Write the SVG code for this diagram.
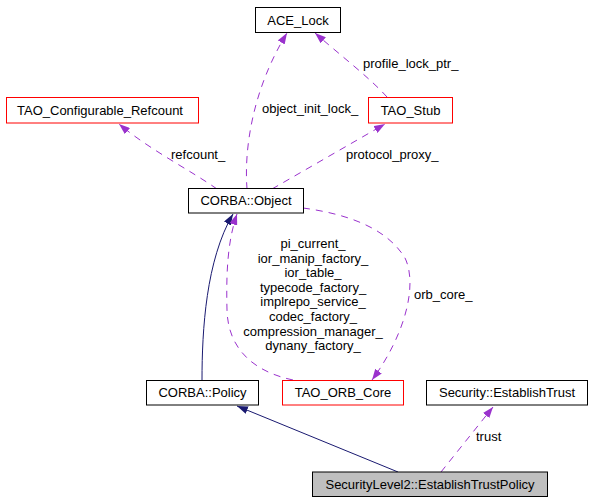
<svg xmlns="http://www.w3.org/2000/svg" width="591" height="501" viewBox="0 0 591 501">
<style>
  text { font-family: "Liberation Sans", Arial, sans-serif; font-size: 13px; fill: #000; }
  .c { text-anchor: middle; }
  .box { fill: #fff; stroke: #000; stroke-width: 1; }
  .red { fill: #fff; stroke: #ff0000; stroke-width: 1; }
  .main { fill: #bfbfbf; stroke: #000; stroke-width: 1; }
  .inh { fill: none; stroke: #191970; stroke-width: 1; marker-end: url(#an); }
  .use { fill: none; stroke: #9a32cd; stroke-width: 1; stroke-dasharray: 7,6; marker-end: url(#ap); }
</style>
<defs>
  <marker id="an" markerUnits="userSpaceOnUse" viewBox="0 0 11 8" refX="11" refY="4" markerWidth="11" markerHeight="8" orient="auto">
    <path d="M0,0 L11,4 L0,8 z" fill="#191970" stroke="none"/>
  </marker>
  <marker id="ap" markerUnits="userSpaceOnUse" viewBox="0 0 11 8" refX="11" refY="4" markerWidth="11" markerHeight="8" orient="auto">
    <path d="M0,0 L11,4 L0,8 z" fill="#9a32cd" stroke="none"/>
  </marker>
</defs>
<rect width="591" height="501" fill="#fff"/>
<g id="connectors">
  <path class="inh" d="M202,380 C202,330 206,260 233,214"/>
  <path class="inh" d="M398,472 L237,406"/>
  <path class="use" d="M217,189 C190,170 150,150 119,124"/>
  <path class="use" d="M247,189 C244,150 252,90 287,33"/>
  <path class="use" d="M387,97 C370,78 340,55 315,33"/>
  <path class="use" d="M272,189 L385,124"/>
  <path class="use" d="M303,208 C340,213 385,225 405,258 C418,285 405,335 372,380"/>
  <path class="use" d="M293,380 C255,372 228,350 227,310 C226,270 228,240 237,214"/>
  <path class="use" d="M441,472 L493,407"/>
  <text x="171" y="159">refcount_</text>
  <text x="262" y="113">object_init_lock_</text>
  <text x="363" y="68">profile_lock_ptr_</text>
  <text x="346" y="159">protocol_proxy_</text>
  <text x="414" y="299">orb_core_</text>
  <text x="476" y="441">trust</text>
  <text class="c" x="313" y="248">pi_current_</text>
  <text class="c" x="313" y="263">ior_manip_factory_</text>
  <text class="c" x="313" y="277">ior_table_</text>
  <text class="c" x="313" y="292">typecode_factory_</text>
  <text class="c" x="313" y="306">implrepo_service_</text>
  <text class="c" x="313" y="321">codec_factory_</text>
  <text class="c" x="313" y="336">compression_manager_</text>
  <text class="c" x="313" y="350">dynany_factory_</text>
</g>
<g id="ace_lock">
  <rect class="box" x="255.5" y="7.5" width="85" height="25"/>
  <text class="c" x="298" y="24.5">ACE_Lock</text>
</g>
<g id="tao_configurable_refcount">
  <rect class="red" x="6.5" y="97.5" width="192" height="25.5"/>
  <text class="c" x="100" y="114.5">TAO_Configurable_Refcount</text>
</g>
<g id="tao_stub">
  <rect class="red" x="368.5" y="97.5" width="84" height="25.5"/>
  <text class="c" x="410.5" y="114.5">TAO_Stub</text>
</g>
<g id="corba_object">
  <rect class="box" x="188.5" y="188.5" width="115" height="24.5"/>
  <text class="c" x="246" y="205">CORBA::Object</text>
</g>
<g id="corba_policy">
  <rect class="box" x="146.5" y="380.5" width="112" height="24.5"/>
  <text class="c" x="202.5" y="397">CORBA::Policy</text>
</g>
<g id="tao_orb_core">
  <rect class="red" x="282.5" y="380.5" width="121" height="24.5"/>
  <text class="c" x="343" y="397">TAO_ORB_Core</text>
</g>
<g id="security_establishtrust">
  <rect class="box" x="426.5" y="380.5" width="161" height="24.5"/>
  <text class="c" x="507" y="397">Security::EstablishTrust</text>
</g>
<g id="securitylevel2_establishtrustpolicy">
  <rect class="main" x="312.5" y="472" width="235" height="24.5"/>
  <text class="c" x="430" y="488.5">SecurityLevel2::EstablishTrustPolicy</text>
</g>
</svg>
